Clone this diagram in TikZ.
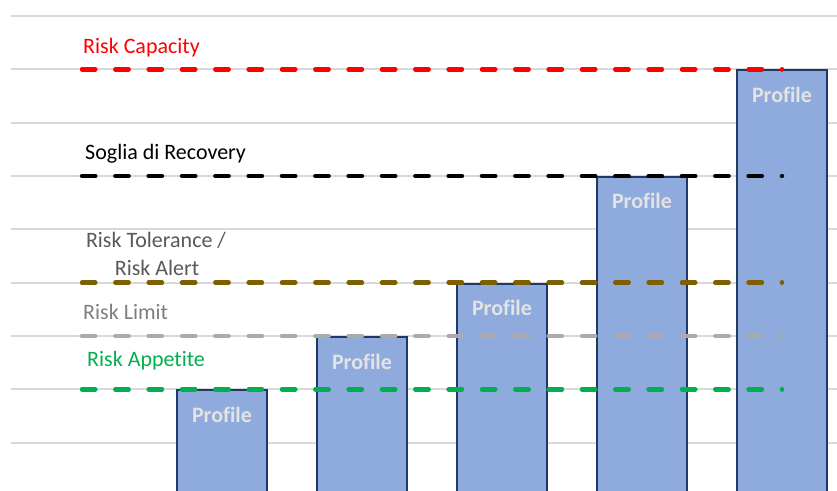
\documentclass[tikz,border=0pt]{standalone}
\usepackage{fontspec}
\setmainfont{Carlito}[Ligatures=CommonOff]
\definecolor{gridc}{HTML}{D9D9D9}
\definecolor{barfill}{HTML}{8FAADC}
\definecolor{barline}{HTML}{1F3864}
\definecolor{proftext}{HTML}{E4E3E3}
\definecolor{capred}{HTML}{FF0000}
\definecolor{recblack}{HTML}{000000}
\definecolor{tolbrown}{HTML}{7F6000}
\definecolor{limgray}{HTML}{AEAAAA}
\definecolor{appgreen}{HTML}{00B050}
\definecolor{toltext}{HTML}{595959}
\definecolor{limtext}{HTML}{7F7F7F}
\tikzset{
  gridline/.style={draw=gridc, line width=2bp},
  barbox/.style={draw=barline, fill=barfill, line width=2bp, minimum width=90bp, inner sep=0pt, anchor=north west},
  proflabel/.style={text=proftext, font=\fontsize{22bp}{26bp}\selectfont\bfseries, anchor=base, inner sep=0pt},
  levellabel/.style={font=\fontsize{22bp}{26bp}\selectfont, anchor=base west, inner sep=0pt},
  levelline/.style={line width=4.5bp, line cap=round, dash pattern=on 13.33bp off 20bp},
}
\begin{document}
\begin{tikzpicture}[x=1bp,y=-1bp]
\clip (0,0) rectangle (837,491);
\fill[white] (0,0) rectangle (837,491);
% grid
\foreach \yy in {16,69.3,122.7,176,229.3,282.7,336,389.3,442.7}
  \draw[gridline] (11,\yy) -- (837,\yy);
% bars
\node[barbox, minimum height=106bp] (b1) at (176,389.3) {};
\node[barbox, minimum height=159bp] (b2) at (316,336) {};
\node[barbox, minimum height=212bp] (b3) at (456,282.7) {};
\node[barbox, minimum height=319bp] (b4) at (596,176) {};
\node[barbox, minimum height=426bp] (b5) at (736,69.3) {};
\foreach \i in {1,...,5}
  \node[proflabel] (p\i) at ([yshift=-33bp]b\i.north) {Profile};
% level lines
\coordinate (capA) at (82,69.3);  \coordinate (capB) at (782,69.3);
\coordinate (recA) at (82,176);   \coordinate (recB) at (782,176);
\coordinate (tolA) at (82,282.7); \coordinate (tolB) at (782,282.7);
\coordinate (limA) at (82,336);   \coordinate (limB) at (782,336);
\coordinate (appA) at (82,389.3); \coordinate (appB) at (782,389.3);
\draw[levelline, draw=capred] (capA) -- (capB);
\draw[levelline, draw=recblack] (recA) -- (recB);
\draw[levelline, draw=tolbrown] (tolA) -- (tolB);
\draw[levelline, draw=limgray] (limA) -- (limB);
\draw[levelline, draw=appgreen] (appA) -- (appB);
% labels
\node[levellabel, text=capred] (lcap) at (83,54) {Risk Capacity};
\node[levellabel, text=recblack] (lrec) at (85,160) {Soglia di Recovery};
\node[levellabel, text=toltext, anchor=base] (ltol1) at (156,248) {Risk Tolerance /};
\node[levellabel, text=toltext, anchor=base] (ltol2) at (157,276) {Risk Alert};
\node[levellabel, text=limtext] (llim) at (83,320) {Risk Limit};
\node[levellabel, text=appgreen] (lapp) at (87,366) {Risk Appetite};
\end{tikzpicture}
\end{document}
